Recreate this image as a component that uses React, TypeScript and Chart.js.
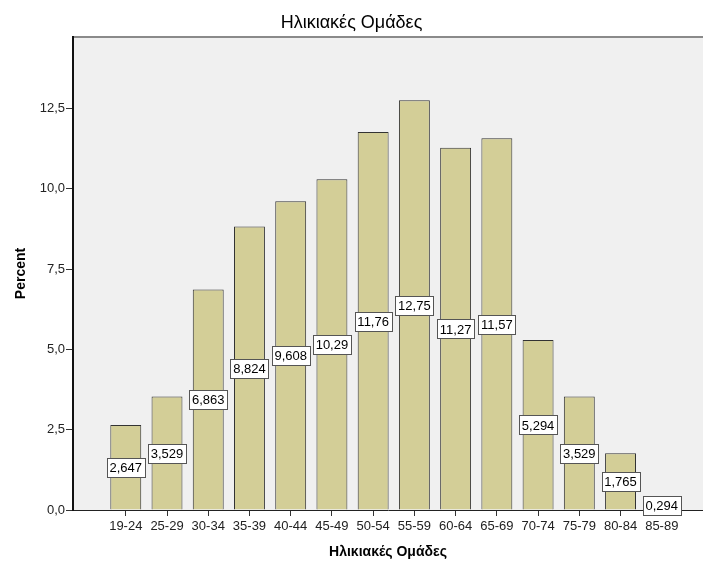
import React, { useEffect, useRef } from 'react';
import { Chart, registerables } from 'chart.js';

Chart.register(...registerables);

const categories = ['19-24', '25-29', '30-34', '35-39', '40-44', '45-49', '50-54', '55-59', '60-64', '65-69', '70-74', '75-79', '80-84', '85-89'];
const percents = [2.647, 3.529, 6.863, 8.824, 9.608, 10.29, 11.76, 12.75, 11.27, 11.57, 5.294, 3.529, 1.765, 0.294];
const yTicks = [0, 2.5, 5, 7.5, 10, 12.5];

const FONT = '"Liberation Sans", Arial, sans-serif';

const fmtValue = (v: number) => (v >= 10 ? v.toFixed(2) : v.toFixed(3)).replace('.', ',');

const plotDecor = {
  id: 'plotDecor',
  beforeDraw(chart: any) {
    const { ctx, chartArea } = chart;
    ctx.save();
    ctx.fillStyle = '#f0f0f0';
    ctx.fillRect(chartArea.left, chartArea.top, chartArea.right - chartArea.left, chartArea.bottom - chartArea.top);
    ctx.strokeStyle = '#8a8a8a';
    ctx.lineWidth = 2;
    ctx.beginPath();
    ctx.moveTo(chartArea.left, chartArea.top);
    ctx.lineTo(chartArea.right, chartArea.top);
    ctx.stroke();
    ctx.restore();
  },
};

const valueBoxes = {
  id: 'valueBoxes',
  afterDatasetsDraw(chart: any) {
    const { ctx } = chart;
    const yScale = chart.scales.y;
    const meta = chart.getDatasetMeta(0);
    ctx.save();
    ctx.font = `13px ${FONT}`;
    ctx.textAlign = 'center';
    ctx.textBaseline = 'middle';
    meta.data.forEach((bar: any, i: number) => {
      const v = percents[i];
      const txt = fmtValue(v);
      const cx = bar.x;
      const cy = yScale.getPixelForValue(v / 2);
      const w = Math.round(ctx.measureText(txt).width + 5);
      const h = 19;
      const x0 = Math.round(cx - w / 2) + 0.5;
      const y0 = Math.round(cy - h / 2) + 0.5;
      ctx.fillStyle = '#ffffff';
      ctx.fillRect(x0, y0, w, h);
      ctx.strokeStyle = '#555555';
      ctx.lineWidth = 1;
      ctx.strokeRect(x0, y0, w, h);
      ctx.fillStyle = '#000000';
      ctx.fillText(txt, cx, cy + 1);
    });
    ctx.restore();
  },
};

export default function App() {
  const ref = useRef<HTMLCanvasElement>(null);
  useEffect(() => {
    document.body.style.margin = '0';
    const canvas = ref.current!;
    const chart = new Chart(canvas, {
      type: 'bar',
      data: {
        datasets: [
          {
            label: 'Percent',
            data: percents.map((v, i) => ({ x: i, y: v })),
            backgroundColor: '#d3ce97',
            borderColor: '#333333',
            borderWidth: 1,
            categoryPercentage: 0.75,
            barPercentage: 1,
          },
        ],
      },
      options: {
        responsive: false,
        animation: false,
        devicePixelRatio: 1,
        layout: { padding: 0 },
        plugins: {
          legend: { display: false },
          tooltip: { enabled: false },
          title: {
            display: true,
            text: 'Ηλικιακές Ομάδες',
            color: '#000',
            font: { family: FONT, size: 18, weight: 'normal' },
            padding: { top: 12, bottom: 3.4 },
          },
        },
        scales: {
          x: {
            type: 'linear',
            min: -1.28,
            max: 14.0,
            offset: false,
            afterFit: (s: any) => { s.height = 51; },
            afterBuildTicks: (s: any) => { s.ticks = categories.map((_, i) => ({ value: i })); },
            ticks: {
              autoSkip: false,
              maxRotation: 0,
              color: '#222',
              padding: 3,
              font: { family: FONT, size: 13 },
              callback: (v: any) => categories[v as number] ?? '',
            },
            grid: { display: true, offset: false, drawOnChartArea: false, drawTicks: true, tickLength: 6, color: '#333' },
            border: { display: true, color: '#222', width: 1 },
            title: {
              display: true,
              text: 'Ηλικιακές Ομάδες',
              color: '#000',
              font: { family: FONT, size: 14, weight: 'bold' },
              padding: { top: 0, bottom: 0 },
            },
          },
          y: {
            type: 'linear',
            min: 0,
            max: 14.72,
            afterFit: (s: any) => { s.width = 73; },
            afterBuildTicks: (s: any) => { s.ticks = yTicks.map((v) => ({ value: v })); },
            ticks: {
              color: '#222',
              padding: 1,
              font: { family: FONT, size: 13 },
              callback: (v: any) => (v as number).toFixed(1).replace('.', ','),
            },
            grid: { display: true, drawOnChartArea: false, drawTicks: true, tickLength: 7, color: '#333' },
            border: { display: true, color: '#111', width: 2 },
            title: {
              display: true,
              text: 'Percent',
              color: '#000',
              font: { family: FONT, size: 14, weight: 'bold' },
              padding: { top: 13, bottom: 0 },
            },
          },
        },
      },
      plugins: [plotDecor, valueBoxes],
    });
    return () => chart.destroy();
  }, []);
  return (
    <div style={{ width: 703, height: 561 }}>
      <canvas ref={ref} width={703} height={561} />
    </div>
  );
}
